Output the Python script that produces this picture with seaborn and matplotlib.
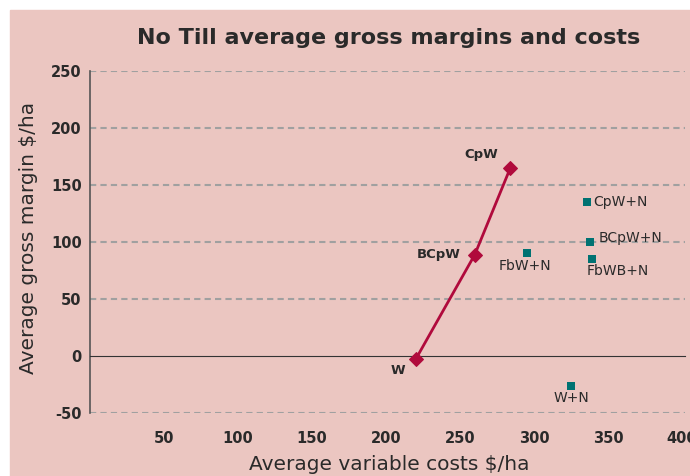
import matplotlib
matplotlib.use("Agg")
import matplotlib.pyplot as plt
import seaborn as sns
import pandas as pd

# No Till rotations (line)
till_names = ["W", "BCpW", "CpW"]
till_cost = [220, 260, 284]
till_margin = [-3, 89, 165]

# rotations with N (squares)
n_names = ["CpW+N", "BCpW+N", "FbW+N", "FbWB+N", "W+N"]
n_cost = [336, 338, 295, 339, 325]
n_margin = [135, 100, 90, 85, -26]

x_ticks = [50, 100, 150, 200, 250, 300, 350, 400]
y_ticks = [-50, 0, 50, 100, 150, 200, 250]

bg = "#ebc6c1"
line_col = "#b00a3c"
sq_col = "#007272"
txt = "#2a2a2a"

sns.set_style("white")
plt.rcParams["font.family"] = ["DejaVu Sans"]

fig = plt.figure(figsize=(6.9, 4.76), dpi=100)
fig.add_artist(plt.Rectangle((10 / 690, 0), 1, 1 - 10 / 476,
                             transform=fig.transFigure, color=bg, zorder=-5))
ax = fig.add_axes([90 / 690, 63 / 476, 595 / 690, 342 / 476])
ax.set_facecolor("none")

# dashed grid (the zero line is the x axis itself)
for yv in y_ticks:
    if yv != 0:
        ax.axhline(yv, color="#a0a0a0", lw=1.5, ls=(0, (3, 2)), zorder=1)

till = pd.DataFrame({"cost": till_cost, "margin": till_margin, "name": till_names})
nn = pd.DataFrame({"cost": n_cost, "margin": n_margin, "name": n_names})

sns.lineplot(data=till, x="cost", y="margin", sort=False, color=line_col,
             lw=2, marker="D", markersize=7, markeredgecolor=line_col, ax=ax, zorder=3)
sns.scatterplot(data=nn, x="cost", y="margin", marker="s", s=36, color=sq_col,
                edgecolor=sq_col, linewidth=0, ax=ax, zorder=3)

till_off = [(-18, -11), (-36, 0), (-29, 13)]
for nm, x, y, off in zip(till_names, till_cost, till_margin, till_off):
    ax.annotate(nm, (x, y), xytext=(off[0] * 0.72, off[1] * 0.72),
                textcoords="offset points", ha="center", va="center",
                fontsize=9.5, fontweight="bold", color=txt)

n_off = [(6, 0, "left"), (8, 4, "left"), (-2, -13, "center"), (-5, -12, "left"), (0, -12, "center")]
for nm, x, y, off in zip(n_names, n_cost, n_margin, n_off):
    ax.annotate(nm, (x, y), xytext=(off[0] * 0.72, off[1] * 0.72),
                textcoords="offset points", ha=off[2], va="center",
                fontsize=10, color=txt)

for s in ["top", "right"]:
    ax.spines[s].set_visible(False)
ax.spines["bottom"].set_position(("data", 0))
ax.spines["bottom"].set_color("#333333")
ax.spines["left"].set_color("#555555")
ax.spines["left"].set_linewidth(1.2)

ax.set_xlim(0, 402)
ax.set_ylim(-50, 250)
ax.set_xticks(x_ticks, labels=[str(v) for v in x_ticks],
              fontweight="bold", fontsize=10.5, color=txt)
ax.set_yticks(y_ticks, labels=[str(v) for v in y_ticks],
              fontweight="bold", fontsize=10.5, color=txt)
ax.tick_params(axis="x", direction="out", length=4, width=1, color="#333333", pad=50)
ax.tick_params(axis="y", direction="out", length=4, width=1, color="#333333", pad=2)

ax.set_xlabel("Average variable costs $/ha", fontsize=14.5, color=txt)
ax.set_ylabel("Average gross margin $/ha", fontsize=14.5, color=txt)
ax.xaxis.set_label_coords((389 - 90) / 595, -(465 - 413) / 342)
ax.xaxis.label.set_va("center")
ax.yaxis.set_label_coords(-(90 - 29) / 595, (413 - 238) / 342)
ax.yaxis.label.set_va("center")

fig.text(389 / 690, 1 - 38 / 476, "No Till average gross margins and costs",
         ha="center", va="center", fontsize=16, fontweight="bold", color=txt)

fig.savefig("out.png", dpi=100)
